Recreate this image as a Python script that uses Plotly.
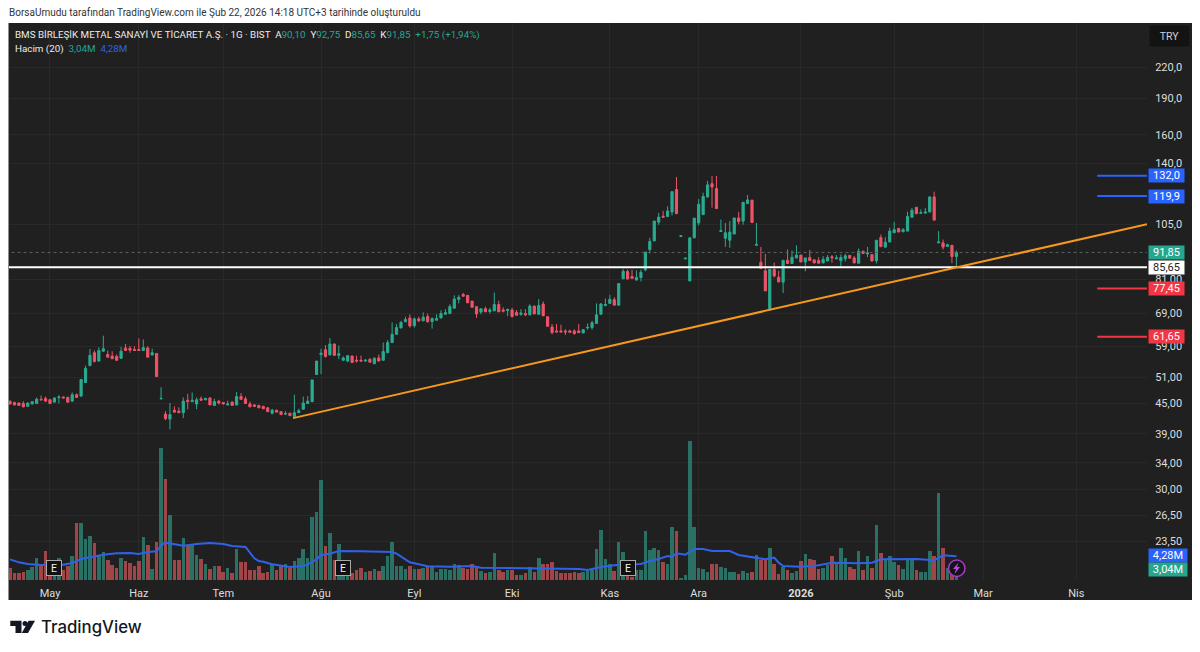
import math
import plotly.graph_objects as go

W, H = 1200, 652

opens = [45.5,45.2,45.1,45.0,44.4,44.9,45.0,45.9,46.1,45.8,
45.3,46.3,46.4,46.3,45.5,46.9,46.6,49.7,53.8,57.2,
55.0,57.6,56.7,56.3,56.2,55.7,58.5,58.4,58.1,58.1,
57.8,58.5,56.6,57.0,46.0,42.8,41.8,43.6,43.4,43.1,
45.7,45.4,44.9,46.0,45.8,46.2,44.6,45.5,45.2,44.7,
45.3,44.7,46.5,46.0,44.9,44.7,44.6,44.4,44.1,43.0,
43.6,43.3,42.8,43.0,42.3,43.1,43.8,45.0,45.4,51.6,
56.7,58.0,56.6,59.6,56.5,55.2,55.0,56.3,55.2,55.2,
55.0,55.4,54.3,55.8,55.2,57.2,60.0,62.4,64.3,66.2,
67.4,65.0,67.1,66.5,67.9,66.3,66.7,67.4,68.6,68.8,
70.6,73.6,75.3,75.0,73.0,71.1,69.3,70.4,69.5,69.7,
71.8,70.0,69.8,70.0,69.2,68.6,68.8,68.4,71.3,68.6,
72.0,67.8,64.6,63.4,63.4,63.4,63.4,63.4,63.4,62.8,
64.3,64.4,65.7,68.6,71.5,72.2,73.5,71.6,81.1,83.9,
82.0,80.6,81.6,84.6,93.1,97.0,106.0,109.0,108.8,111.2,
123.6,99.0,89.1,80.3,98.4,105.6,109.8,119.3,127.1,124.2,
101.4,98.2,97.3,100.2,108.1,106.5,115.7,117.6,95.0,87.7,
84.2,70.5,84.7,81.7,79.8,88.5,87.2,89.5,90.7,87.8,
89.7,88.7,88.4,87.4,88.2,90.0,89.1,88.3,89.2,90.6,
89.5,87.3,92.4,91.2,90.9,88.3,98.5,94.2,96.5,100.8,
102.9,101.3,101.6,108.5,113.7,110.5,110.6,111.2,119.4,96.1,
96.1,94.5,95.0,90.10]

highs = [45.6,45.4,45.2,45.5,45.2,45.5,46.3,46.7,46.5,46.0,
46.3,46.8,46.5,46.5,47.4,47.2,50.5,53.8,58.2,57.8,
58.7,62.0,57.8,57.6,56.7,58.8,59.6,59.1,59.0,61.2,
60.9,59.0,58.3,57.1,48.6,43.4,45.1,44.4,44.2,46.3,
47.1,47.4,46.3,46.5,46.2,46.3,46.0,45.8,45.3,45.6,
45.4,47.5,47.3,46.5,45.4,44.8,44.7,44.5,44.2,43.9,
43.7,43.4,43.4,43.0,46.9,43.9,46.5,46.6,50.3,55.0,
58.3,59.3,61.3,59.7,59.2,56.2,56.5,56.4,56.4,56.4,
55.5,55.8,56.0,56.7,60.0,60.7,66.0,65.5,66.5,67.8,
68.6,67.6,67.8,69.2,68.8,67.6,68.6,69.9,70.3,71.9,
75.0,75.1,75.9,75.1,73.1,71.2,70.5,71.1,70.7,76.0,
73.1,70.9,70.4,70.7,70.0,70.3,70.3,71.9,71.4,73.7,
72.9,67.9,65.5,65.5,65.3,63.9,63.8,63.9,65.5,63.9,
65.7,66.5,72.2,72.3,73.9,75.2,74.4,79.3,84.9,84.7,
84.7,84.4,84.7,92.0,98.4,106.6,110.7,111.8,114.2,122.5,
131.2,99.5,89.5,98.4,108.0,118.2,121.8,128.8,131.8,131.8,
107.3,105.6,106.5,108.2,111.3,116.5,120.5,117.7,105.6,94.3,
91.2,84.9,87.6,84.2,88.6,93.1,92.7,95.0,90.8,89.6,
92.9,88.8,89.8,90.3,90.7,90.7,90.7,91.0,91.3,90.7,
90.3,93.6,92.5,94.3,91.2,97.4,100.0,98.7,103.3,106.2,
103.0,103.0,111.3,113.4,113.8,112.6,113.4,119.5,122.4,101.6,
97.6,95.7,95.1,92.75]

lows = [44.8,44.6,44.5,44.2,44.3,44.8,44.9,45.6,45.4,44.9,
45.2,45.0,46.1,45.1,45.4,46.2,46.5,49.6,53.7,54.6,
54.8,57.5,56.0,55.6,55.0,55.6,57.7,57.2,57.7,57.7,
57.7,56.0,56.5,51.0,45.9,41.6,39.8,43.1,43.0,42.0,
43.8,45.3,43.8,45.6,45.7,44.7,44.5,44.8,44.8,44.6,
44.6,44.6,45.8,44.9,44.3,44.3,44.0,43.9,43.3,42.7,
43.2,42.7,42.6,42.4,42.3,43.0,43.7,44.9,45.3,51.5,
51.7,55.9,56.5,56.4,55.5,55.1,54.7,54.6,54.6,54.8,
54.8,54.6,54.3,54.9,55.1,57.1,59.9,62.3,64.2,66.1,
64.4,64.4,66.1,66.4,66.0,64.1,66.6,67.3,68.5,68.7,
70.5,72.2,74.6,72.4,70.9,67.4,68.6,69.4,68.8,69.6,
69.4,69.2,68.0,67.5,68.2,68.1,68.1,68.3,68.7,68.5,
68.0,64.8,62.4,63.0,63.0,62.2,62.9,62.3,62.9,62.7,
63.8,63.8,65.6,68.5,71.2,72.1,71.6,71.5,81.0,81.0,
81.2,80.5,80.1,84.0,91.4,96.9,104.6,108.4,108.7,109.4,
110.2,98.9,89.0,80.2,98.3,104.3,109.7,119.2,113.5,113.0,
101.3,94.3,93.9,100.1,104.9,104.7,115.6,105.8,94.9,85.1,
76.6,69.7,81.6,79.9,75.8,87.2,87.1,89.4,87.8,84.0,
88.3,87.4,87.2,87.3,88.1,87.5,89.0,85.5,88.0,89.3,
87.4,87.2,91.3,89.8,88.1,87.2,94.3,93.9,96.4,100.7,
101.0,101.0,101.5,108.4,110.2,110.4,110.5,111.1,107.0,96.0,
93.1,94.4,87.3,85.65]

closes = [44.9,44.7,44.6,44.3,45.1,45.4,45.9,45.8,45.5,45.0,
46.2,46.4,46.2,45.3,46.9,46.3,50.4,53.1,56.5,54.9,
57.8,58.3,56.0,55.6,55.2,57.6,57.8,57.9,57.8,57.8,
58.6,56.0,57.2,51.1,46.1,41.9,42.7,43.2,43.1,45.5,
45.4,45.7,45.8,45.7,46.1,44.7,45.4,45.1,44.9,44.9,
44.6,46.5,45.9,45.0,44.3,44.4,44.1,43.9,43.3,43.6,
43.2,42.7,42.9,42.5,43.1,43.5,45.1,45.5,50.3,55.0,
57.1,56.2,59.6,56.5,56.9,55.8,56.4,54.6,55.0,55.0,
55.2,54.7,55.7,55.0,57.5,60.0,62.4,64.4,66.0,66.9,
64.9,67.1,66.5,67.6,66.2,67.2,67.2,68.8,69.1,71.1,
73.7,74.3,74.7,72.4,70.9,68.7,70.4,69.4,70.0,71.8,
69.4,69.6,70.2,67.9,68.3,69.0,68.4,71.3,68.7,71.5,
68.1,64.8,62.9,63.1,63.1,63.1,63.0,62.6,62.9,63.8,
64.5,65.9,68.4,72.0,71.8,73.6,71.6,79.3,84.0,81.0,
81.3,81.6,83.6,92.0,96.7,106.5,108.5,108.5,111.7,122.4,
110.3,99.4,89.4,98.4,108.0,115.3,119.6,126.4,125.1,113.0,
101.9,100.8,101.1,108.1,106.3,116.4,117.7,105.8,95.4,85.2,
76.6,84.8,82.2,79.9,88.5,87.2,89.8,90.7,87.8,89.5,
88.4,87.4,87.3,88.9,89.7,89.6,89.5,89.7,90.4,89.4,
87.4,92.4,91.4,91.6,88.2,97.3,94.4,96.4,101.6,102.3,
101.2,102.3,108.9,112.1,110.3,110.9,111.2,119.4,107.0,96.5,
94.2,95.3,90.10,91.85]

volumes = [2.10,1.32,1.32,1.50,1.80,2.34,4.02,2.52,5.22,2.10,
1.80,4.02,1.80,2.52,4.32,10.32,10.32,7.32,7.92,6.60,
4.50,5.04,3.60,2.70,2.22,3.90,3.42,3.12,2.52,3.42,
7.74,6.30,1.98,6.90,23.82,18.18,11.64,3.60,3.60,7.56,
6.30,6.42,4.44,3.72,2.94,1.98,2.52,2.46,1.44,2.10,
1.26,5.52,3.18,3.18,1.74,1.74,2.46,1.32,1.50,2.82,
1.80,2.52,2.82,2.10,3.42,4.02,5.52,3.90,11.28,12.30,
17.94,6.12,8.40,3.54,6.42,2.10,1.80,1.20,1.86,2.10,
1.44,1.62,1.92,1.62,2.52,4.26,6.84,2.58,2.58,1.98,
2.52,1.92,2.04,2.16,2.28,2.34,1.38,1.92,1.92,1.80,
2.94,2.70,2.10,1.92,2.94,2.52,1.62,1.20,1.38,4.80,
1.80,1.38,1.80,1.74,0.96,0.90,1.26,2.28,1.38,3.96,
2.82,2.82,3.18,1.56,1.26,1.26,1.26,1.50,1.32,1.44,
1.62,1.74,5.58,8.94,3.78,2.94,1.62,6.84,5.04,1.80,
0.60,1.80,1.74,8.76,5.40,5.76,5.40,3.30,2.82,9.48,
8.76,0.30,0.90,25.02,9.60,2.16,1.92,1.50,2.82,2.82,
2.34,2.22,1.50,1.50,1.14,1.62,1.26,1.50,4.50,3.66,
3.54,5.82,2.82,1.02,2.40,1.74,1.26,1.62,3.42,4.68,
3.78,3.54,1.92,2.22,2.64,4.38,3.12,5.70,3.96,2.34,
1.92,5.22,1.86,4.38,2.10,9.96,4.86,3.72,4.32,3.30,
2.70,1.98,3.72,4.02,1.80,1.50,1.50,5.22,4.26,15.60,
5.70,2.22,1.80,3.04]

# volume moving average, read at these bars
ma_bars = [0,2,4,7,9,12,14,16,18,21,24,27,29,31,33,34,35,37,39,42,45,48,50,53,54,55,56,57,59,61,63,66,67,69,70,72,
74,79,86,87,89,90,92,94,99,102,104,106,111,117,123,128,130,133,137,142,144,146,148,149,150,152,154,156,158,162,164,
168,170,172,173,174,178,182,185,191,194,196,199,204,208,210,213]
ma_values = [3.72,3.18,2.88,2.70,2.76,2.76,3.06,3.78,4.08,4.56,4.80,4.86,4.68,5.04,5.16,6.24,6.72,6.48,6.18,6.48,6.66,6.48,6.12,5.94,4.86,3.90,3.42,3.30,2.82,2.52,2.34,2.52,2.82,3.72,4.50,4.74,
5.22,5.16,5.04,4.74,3.72,3.18,2.82,2.46,2.40,2.52,2.52,2.22,2.16,2.10,2.04,1.98,1.80,2.34,2.76,2.88,3.42,3.78,4.32,4.20,4.80,4.56,5.58,5.58,5.22,5.22,4.50,
4.02,3.72,4.02,3.12,2.52,2.40,2.64,3.12,3.00,3.12,3.72,3.78,3.78,3.54,4.44,4.28]

month_bars = [9,29,48,70,91,113,135,155,178,199,219,240]
month_labels = ["May","Haz","Tem","Ağu","Eyl","Eki","Kas","Ara","<b>2026</b>","Şub","Mar","Nis"]
price_ticks = [220,190,160,140,105,81,69,59,51,45,39,34,30,26.5,23.5]
price_tick_labels = ["220,0","190,0","160,0","140,0","105,0","81,00","69,00","59,00","51,00","45,00","39,00","34,00","30,00","26,50","23,50"]

trend_bars = [63.7, 255.9]
trend_prices = [42.0, 105.0]
ray_bars = [244.7, 255.9]
blue_levels = [132.0, 119.9]
red_levels = [77.45, 61.65]
last_close = 91.85
support_level = 85.65
earnings_bars = [10, 75, 139]

GREEN = "#2bab90"
RED = "#ee5468"
VOL_GREEN = "#2b7064"
VOL_RED = "#a04648"
BLUE = "#2962ff"
BG = "#202020"
GRID = "#292929"
FONT = "Roboto"

assert all(len(a) == 214 for a in (opens, highs, lows, closes, volumes))
assert len(ma_bars) == len(ma_values)

def px(x):
    return x / W

def py(y):
    return 1 - y / H

bars = list(range(214))
vol_colors = [VOL_GREEN if c >= o else VOL_RED for o, c in zip(opens, closes)]

fig = go.Figure()
fig.add_trace(go.Bar(x=bars, y=volumes, yaxis="y2", marker=dict(color=vol_colors, line=dict(width=0)),
                     width=0.8, hoverinfo="skip", showlegend=False))
fig.add_trace(go.Scatter(x=ma_bars, y=ma_values, yaxis="y2", mode="lines",
                         line=dict(color="#2f62e8", width=2), hoverinfo="skip", showlegend=False))
fig.add_trace(go.Candlestick(x=bars, open=opens, high=highs, low=lows, close=closes,
                             increasing=dict(line=dict(color=GREEN, width=1), fillcolor=GREEN),
                             decreasing=dict(line=dict(color=RED, width=1), fillcolor=RED),
                             whiskerwidth=0, hoverinfo="skip", showlegend=False))
full = [-1, 255.9]
fig.add_trace(go.Scatter(x=full, y=[last_close] * 2, mode="lines",
                         line=dict(color="#55635f", width=1, dash="dot"), hoverinfo="skip", showlegend=False))
fig.add_trace(go.Scatter(x=full, y=[support_level] * 2, mode="lines",
                         line=dict(color="#ffffff", width=2), hoverinfo="skip", showlegend=False))
fig.add_trace(go.Scatter(x=trend_bars, y=trend_prices, mode="lines",
                         line=dict(color="#f7981d", width=2), hoverinfo="skip", showlegend=False))
for lvl in blue_levels:
    fig.add_trace(go.Scatter(x=ray_bars, y=[lvl] * 2, mode="lines",
                             line=dict(color=BLUE, width=2), hoverinfo="skip", showlegend=False))
for lvl in red_levels:
    fig.add_trace(go.Scatter(x=ray_bars, y=[lvl] * 2, mode="lines",
                             line=dict(color="#f23645", width=2), hoverinfo="skip", showlegend=False))

annotations = []

def text(x, y, s, size, color, family=FONT, weight=None):
    f = dict(family=family, size=size, color=color)
    if weight:
        f["weight"] = weight
    annotations.append(dict(xref="paper", yref="paper", x=px(x), y=py(y), text=s, showarrow=False,
                            xanchor="left", yanchor="middle", align="left", font=f))

def badge(level, s, bg, fg="#ffffff"):
    annotations.append(dict(xref="paper", yref="y", x=px(1147.5), y=math.log10(level), text=s, showarrow=False,
                            xanchor="left", yanchor="middle", width=34, height=12, bgcolor=bg,
                            borderpad=0.5, font=dict(family=FONT, size=11, color=fg)))

def badge_px(y, s, bg):
    annotations.append(dict(xref="paper", yref="paper", x=px(1147.5), y=py(y), text=s, showarrow=False,
                            xanchor="left", yanchor="middle", width=37, height=12, bgcolor=bg,
                            borderpad=0.5, font=dict(family=FONT, size=11, color="#ffffff")))

text(7, 13, "BorsaUmudu tarafından TradingView.com ile Şub 22, 2026 14:18 UTC+3 tarihinde oluşturuldu", 10, "#333333")
t = "#26a69a"
text(13, 35, "BMS BİRLEŞİK METAL SANAYİ VE TİCARET A.Ş. · 1G · BIST  "
     f"A<span style='color:{t}'>90,10</span>  Y<span style='color:{t}'>92,75</span>  "
     f"D<span style='color:{t}'>85,65</span>  K<span style='color:{t}'>91,85</span>  "
     f"<span style='color:{t}'>+1,75 (+1,94%)</span>", 9.8, "#ececec")
text(13, 49, f"Hacim (20)  <span style='color:{t}'>3,04M</span>  <span style='color:#2f62e8'>4,28M</span>", 9.8, "#ececec")

for lvl in blue_levels:
    badge(lvl, f"{lvl:.1f}".replace(".", ","), BLUE)
badge(last_close, "91,85", "#26a68d")
badge(support_level, "85,65", "#ffffff", "#222222")
for lvl in red_levels:
    badge(lvl, f"{lvl:.2f}".replace(".", ","), "#f23645")
badge_px(555.5, "4,28M", BLUE)
badge_px(569, "3,04M", "#26a68d")

annotations.append(dict(xref="paper", yref="paper", x=px(1169.5), y=py(36.5), text="TRY", showarrow=False,
                        xanchor="center", yanchor="middle", width=37, height=18, bgcolor="#131313",
                        font=dict(family=FONT, size=10.5, color="#d0d0d0")))

for b in earnings_bars:
    annotations.append(dict(xref="x", yref="paper", x=b, y=py(568), text="E", showarrow=False,
                            xanchor="center", yanchor="middle", width=13, height=13, bgcolor="#111111",
                            bordercolor="#a8a8a8", borderwidth=1, borderpad=0.5,
                            font=dict(family=FONT, size=10.5, color="#f0f0f0")))

text(39, 627, "TradingView", 16.8, "#131722", family="Inter", weight=500)

shapes = [
    dict(type="rect", xref="paper", yref="paper", x0=px(8.5), x1=px(1192), y0=py(600), y1=py(23),
         fillcolor=BG, line=dict(width=0), layer="below"),
    dict(type="circle", xref="paper", yref="paper", x0=px(948.5), x1=px(965), y0=py(576.5), y1=py(560),
         fillcolor="#17121c", line=dict(color="#a33cc8", width=1.5)),
]

def poly(points, fill):
    d = "M" + " L".join(f"{px(x):.5f},{py(y):.5f}" for x, y in points) + " Z"
    shapes.append(dict(type="path", xref="paper", yref="paper", path=d, fillcolor=fill, line=dict(width=0)))

poly([(958.5, 562.5), (953, 569), (956, 569), (954.5, 574), (960, 567), (957, 567)], "#b44ae0")
poly([(10.3, 620.7), (21.5, 620.7), (21.5, 633), (15.5, 633), (15.5, 626), (10.3, 626)], "#131722")
poly([(28.5, 620.7), (35, 620.7), (28, 633), (21.8, 633)], "#131722")
shapes.append(dict(type="circle", xref="paper", yref="paper", x0=px(22.5), x1=px(27.5), y0=py(626), y1=py(621),
                   fillcolor="#131722", line=dict(width=0)))

dom_y = [py(580), py(23)]
fig.update_layout(
    width=W, height=H, margin=dict(l=0, r=0, t=0, b=0, pad=0),
    paper_bgcolor="#ffffff", plot_bgcolor="rgba(0,0,0,0)",
    showlegend=False, dragmode=False, hovermode=False,
    bargap=0, barmode="overlay",
    xaxis=dict(domain=[px(9), px(1147)], range=[-0.225, 255.9], type="linear",
               tickmode="array", tickvals=month_bars, ticktext=month_labels,
               tickfont=dict(family=FONT, size=11, color="#dddddd"),
               showgrid=True, gridcolor=GRID, gridwidth=1, zeroline=False, showline=False,
               ticks="outside", ticklen=3, tickcolor="rgba(0,0,0,0)", rangeslider=dict(visible=False),
               fixedrange=True),
    yaxis=dict(domain=dom_y, type="log", range=[math.log10(19.55), math.log10(271.5)], side="right",
               anchor="x", tickmode="array", tickvals=price_ticks, ticktext=price_tick_labels,
               tickfont=dict(family=FONT, size=11, color="#dddddd"),
               showgrid=True, gridcolor=GRID, gridwidth=1, zeroline=False, showline=False,
               ticks="outside", ticklen=5, tickcolor="rgba(0,0,0,0)", fixedrange=True),
    yaxis2=dict(domain=dom_y, range=[0, 100.26], overlaying="y", side="left", anchor="x",
                showgrid=False, zeroline=False, showline=False, showticklabels=False, ticks="", fixedrange=True),
    annotations=annotations, shapes=shapes,
)

fig.write_html("out.html", config=dict(displayModeBar=False, responsive=False),
               post_script="document.body.style.margin='0';document.body.style.overflow='hidden';")
